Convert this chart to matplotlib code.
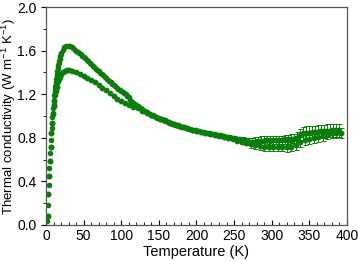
import matplotlib
matplotlib.use("Agg")
import matplotlib.pyplot as plt
from matplotlib.ticker import MultipleLocator

plt.rcParams['font.family'] = ['Liberation Sans', 'DejaVu Sans']
plt.rcParams['mathtext.fontset'] = 'custom'
plt.rcParams['mathtext.rm'] = 'Liberation Sans'
plt.rcParams['mathtext.it'] = 'Liberation Sans:italic'
plt.rcParams['mathtext.bf'] = 'Liberation Sans:bold'

# upper branch (dense)
t_up = [1.5, 2, 2.5, 3, 3.5, 4, 4.5, 5, 5.5, 6, 6.5, 7, 7.5, 8, 8.5, 9, 9.5,
        10, 10.5, 11, 11.5, 12, 12.5, 13, 13.5, 14, 14.5, 15, 15.5, 16, 16.5,
        17, 17.5, 18, 18.5, 19, 19.5,
        20, 22, 24, 26, 28, 30, 32, 34, 36, 38, 40, 42, 44, 46, 48, 50, 52, 54,
        56, 58, 60, 62, 64, 66, 68, 70, 72, 74, 76, 78, 80, 82, 84, 86, 88, 90,
        92, 94, 96, 98, 100, 102, 104, 106, 108, 110, 112, 114, 116, 118, 120,
        122, 124, 126, 128, 130, 132, 134, 136, 138, 140, 142, 144, 146, 148,
        150, 152, 154, 156, 158, 160, 162, 164, 166, 168, 170, 172, 174, 176,
        178, 180, 182, 184, 186, 188, 190, 192, 194, 196, 198, 200, 202, 204,
        206, 208, 210, 212, 214, 216, 218, 220, 222, 224, 226, 228, 230, 232,
        234, 236, 238, 240, 242, 244, 246, 248,
        250, 252, 254, 256, 258, 260, 262, 264, 266, 268, 270, 272, 274, 276,
        278, 280, 282, 284, 286, 288, 290, 292, 294, 296, 298, 300, 302, 304,
        306, 308, 310, 312, 314, 316, 318, 320, 322, 324, 326, 328, 330, 332,
        334, 336, 338, 340, 342, 344, 346, 348, 350, 352, 354, 356, 358, 360,
        362, 364, 366, 368, 370, 372, 374, 376, 378, 380, 382, 384, 386, 388,
        390]
k_up = [0.04, 0.08, 0.18, 0.28, 0.37, 0.45, 0.52, 0.59, 0.66, 0.72, 0.78, 0.84,
        0.89, 0.94, 0.99, 1.03, 1.07, 1.11, 1.15, 1.19, 1.22, 1.25, 1.28, 1.31,
        1.34, 1.37, 1.39, 1.41, 1.43, 1.45, 1.47, 1.49, 1.505, 1.52, 1.535,
        1.55, 1.565,
        1.58, 1.61, 1.63, 1.64, 1.645, 1.645, 1.64, 1.63, 1.62, 1.61, 1.60,
        1.59, 1.578, 1.565, 1.553, 1.54, 1.528, 1.515, 1.503, 1.49, 1.475,
        1.46, 1.448, 1.435, 1.423, 1.41, 1.398, 1.385, 1.373, 1.36, 1.348,
        1.335, 1.323, 1.31, 1.298, 1.285, 1.273, 1.26, 1.248, 1.235, 1.225,
        1.22, 1.21, 1.20, 1.185, 1.17, 1.15, 1.13, 1.12, 1.11, 1.10, 1.09,
        1.08, 1.07, 1.06, 1.05, 1.043, 1.035, 1.028, 1.02, 1.013, 1.005,
        0.998, 0.99, 0.985, 0.98, 0.975, 0.97, 0.963, 0.955, 0.95, 0.945,
        0.94, 0.935, 0.93, 0.925, 0.92, 0.915, 0.91, 0.905, 0.903, 0.90,
        0.895, 0.89, 0.888, 0.885, 0.88, 0.875, 0.873, 0.87, 0.868, 0.865,
        0.86, 0.855, 0.853, 0.85, 0.848, 0.845, 0.843, 0.84, 0.838, 0.835,
        0.833, 0.83, 0.828, 0.825, 0.823, 0.82, 0.815, 0.81, 0.808, 0.805,
        0.803, 0.80, 0.798,
        0.795, 0.793, 0.79, 0.788, 0.785, 0.783, 0.78, 0.775, 0.77, 0.768,
        0.765, 0.763, 0.76, 0.763, 0.765, 0.768, 0.77, 0.773, 0.775, 0.775,
        0.775, 0.778, 0.78, 0.778, 0.775, 0.778, 0.78, 0.78, 0.78, 0.78, 0.78,
        0.78, 0.78, 0.783, 0.785, 0.785, 0.785, 0.788, 0.79, 0.79, 0.79, 0.795,
        0.80, 0.815, 0.83, 0.835, 0.84, 0.843, 0.845, 0.845, 0.845, 0.848,
        0.85, 0.85, 0.85, 0.853, 0.855, 0.858, 0.86, 0.86, 0.86, 0.863, 0.865,
        0.865, 0.865, 0.868, 0.87, 0.87, 0.87, 0.868, 0.865]
# error bars of the last points of the upper branch (250 K .. 390 K)
e_up_tail = [0.02, 0.02, 0.02, 0.022, 0.024, 0.025, 0.026, 0.028, 0.03, 0.03,
             0.03, 0.035, 0.035, 0.038, 0.04, 0.04, 0.04, 0.04, 0.04, 0.04,
             0.04, 0.04, 0.04, 0.04, 0.04, 0.04, 0.04, 0.04, 0.04, 0.04, 0.04,
             0.04, 0.04, 0.04, 0.04, 0.04, 0.04, 0.04, 0.042, 0.045, 0.048,
             0.05, 0.052, 0.055, 0.055, 0.055, 0.058, 0.06, 0.06, 0.06, 0.06,
             0.06, 0.06, 0.06, 0.06, 0.06, 0.06, 0.06, 0.06, 0.06, 0.06, 0.06,
             0.06, 0.06, 0.06, 0.06, 0.06, 0.06, 0.06, 0.06, 0.06]

# lower branch (sparser)
t_lo = [2, 3, 4, 5, 6, 7, 8, 9, 10, 11, 12, 13, 14, 15, 16, 17, 18, 20, 22,
        25, 28, 31, 35, 40, 45, 50, 55, 60, 65, 70, 75, 80, 85, 90, 95, 100,
        105, 110, 116, 122, 128, 134, 140, 146, 152, 158, 164, 170, 176, 182,
        188, 194, 200, 206, 212, 218, 224, 230, 236, 242, 248, 254, 260, 266,
        272, 278, 284, 290, 296, 302, 308, 314, 320, 326, 332, 338, 344, 350,
        356, 362, 368, 374, 380, 386, 392]
k_lo = [0.08, 0.28, 0.45, 0.59, 0.72, 0.84, 0.94, 1.02, 1.09, 1.14, 1.19, 1.23,
        1.27, 1.30, 1.32, 1.34, 1.36, 1.385, 1.40, 1.415, 1.42, 1.42, 1.415,
        1.40, 1.385, 1.37, 1.35, 1.33, 1.31, 1.285, 1.26, 1.235, 1.21, 1.185,
        1.16, 1.14, 1.12, 1.10, 1.085, 1.07, 1.05, 1.03, 1.01, 0.99, 0.975,
        0.96, 0.945, 0.93, 0.915, 0.90, 0.89, 0.875, 0.865, 0.855, 0.845,
        0.835, 0.825, 0.815, 0.805, 0.795, 0.785, 0.775, 0.765, 0.755, 0.74,
        0.73, 0.725, 0.72, 0.72, 0.72, 0.72, 0.72, 0.715, 0.72, 0.73, 0.76,
        0.78, 0.79, 0.80, 0.81, 0.82, 0.83, 0.84, 0.84, 0.845]
# error bars of the lower branch from 254 K on
e_lo_tail = [0.02, 0.025, 0.03, 0.035, 0.04, 0.04, 0.045, 0.045, 0.045,
             0.045, 0.045, 0.045, 0.045, 0.045, 0.045, 0.045, 0.045, 0.045,
             0.045, 0.045, 0.045, 0.045, 0.045]

col = '#0b7d0b'

fig = plt.figure(figsize=(3.58, 2.61), dpi=100)
ax = fig.add_axes([0.1285, 0.138, 0.8405, 0.835])

n = len(e_lo_tail)
ax.errorbar(t_lo[-n:], k_lo[-n:], yerr=e_lo_tail, fmt='none', ecolor=col,
            elinewidth=0.7, capsize=1.8, capthick=0.7)
ax.plot(t_lo, k_lo, 'o', color=col, ms=4.2, mew=0)

n = len(e_up_tail)
ax.errorbar(t_up[-n:], k_up[-n:], yerr=e_up_tail, fmt='none', ecolor=col,
            elinewidth=0.7, capsize=1.8, capthick=0.7, errorevery=2)
ax.plot(t_up, k_up, 'o', color=col, ms=4.0, mew=0)

ax.set_xlim(0, 400)
ax.set_ylim(0, 2.0)
ax.xaxis.set_major_locator(MultipleLocator(50))
ax.xaxis.set_minor_locator(MultipleLocator(10))
ax.yaxis.set_major_locator(MultipleLocator(0.4))
ax.yaxis.set_minor_locator(MultipleLocator(0.2))
ax.tick_params(axis='x', which='both', direction='in', labelsize=10, pad=3)
ax.tick_params(axis='y', which='both', direction='out', labelsize=10)
ax.tick_params(which='major', length=3.5, width=0.8)
ax.tick_params(which='minor', length=2, width=0.6)
ax.yaxis.set_major_formatter(plt.FormatStrFormatter('%.1f'))
for s in ax.spines.values():
    s.set_color('#555555')
    s.set_linewidth(0.9)

ax.set_xlabel('Temperature (K)', fontsize=10.5, labelpad=1)
ax.set_ylabel('Thermal conductivity (W m$^{-1}$ K$^{-1}$)', fontsize=9.5)
ax.yaxis.set_label_coords(-0.092, 0.5)

fig.savefig('out.png', dpi=100)
